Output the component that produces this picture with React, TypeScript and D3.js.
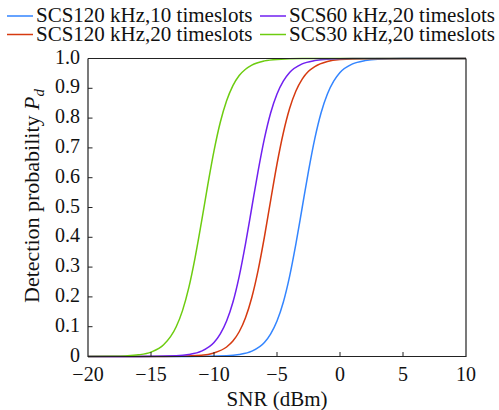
import React, { useEffect, useRef } from "react"
import * as d3 from "d3"

// series (SNR in dB, detection probability)
const snrBlue = [-20, -12, -9, -8, -7, -6, -5.5, -5, -4.5, -4, -3.5, -3, -2.5, -2, -1.5, -1, -0.5, 0, 1, 2, 3, 5, 10]
const pdBlue = [0, 0.0001, 0.0025, 0.0067, 0.018, 0.047, 0.076, 0.119, 0.182, 0.269, 0.378, 0.5, 0.622, 0.731, 0.818, 0.881, 0.924, 0.953, 0.982, 0.993, 0.9975, 0.9997, 1]

const snrPurple = [-20, -16, -13, -12, -11, -10, -9.5, -9, -8.5, -8, -7.5, -7, -6.5, -6, -5.5, -5, -4.5, -4, -3, -2, -1, 1, 10]
const pdPurple = [0, 0.0001, 0.0025, 0.0067, 0.018, 0.047, 0.076, 0.119, 0.182, 0.269, 0.378, 0.5, 0.622, 0.731, 0.818, 0.881, 0.924, 0.953, 0.982, 0.993, 0.9975, 0.9997, 1]

const snrRed = [-20, -14, -11, -10, -9, -8.5, -8, -7.5, -7, -6.5, -6, -5.5, -5, -4.5, -4, -3.5, -3, -2.5, -2, -1, 0, 2, 10]
const pdRed = [0, 0.0002, 0.0045, 0.012, 0.032, 0.052, 0.083, 0.13, 0.198, 0.289, 0.401, 0.525, 0.646, 0.75, 0.832, 0.891, 0.931, 0.957, 0.973, 0.99, 0.9963, 0.9995, 1]

const snrGreen = [-20, -18, -17, -16, -15, -14, -13, -12.5, -12, -11.5, -11, -10.5, -10, -9.5, -9, -8.5, -8, -7.5, -7, -6, -5, -3, 10]
const pdGreen = [0.0001, 0.00075, 0.002, 0.0055, 0.0148, 0.0392, 0.0998, 0.154, 0.231, 0.332, 0.45, 0.574, 0.69, 0.786, 0.858, 0.909, 0.943, 0.964, 0.978, 0.992, 0.997, 0.9996, 1]

const labels = [
  "SCS120 kHz,10 timeslots",
  "SCS60 kHz,20 timeslots",
  "SCS120 kHz,20 timeslots",
  "SCS30 kHz,20 timeslots",
]
const colors = ["#3385ff", "#7020f0", "#d63a10", "#6dcc10"]

const xTicks = [-20, -15, -10, -5, 0, 5, 10]
const yTicks = [0, 0.1, 0.2, 0.3, 0.4, 0.5, 0.6, 0.7, 0.8, 0.9, 1.0]

const W = 499
const H = 410
const font = "'Liberation Serif', 'Times New Roman', serif"

export default function App() {
  const ref = useRef<SVGSVGElement>(null)

  useEffect(() => {
    const svg = d3.select(ref.current)
    svg.selectAll("*").remove()

    const m = { left: 88, right: 33, top: 58.5, bottom: 53.5 }
    const x = d3.scaleLinear().domain([-20, 10]).range([m.left, W - m.right])
    const y = d3.scaleLinear().domain([0, 1]).range([H - m.bottom, m.top])

    // series, drawn in this order so green ends on top
    const series = [
      { s: snrBlue, p: pdBlue, c: colors[0] },
      { s: snrRed, p: pdRed, c: colors[2] },
      { s: snrPurple, p: pdPurple, c: colors[1] },
      { s: snrGreen, p: pdGreen, c: colors[3] },
    ]
    const line = d3
      .line<[number, number]>()
      .x(d => x(d[0]))
      .y(d => y(d[1]))
      .curve(d3.curveMonotoneX)

    svg
      .append("g")
      .selectAll("path")
      .data(series)
      .enter()
      .append("path")
      .attr("d", d => line(d.s.map((v, i) => [v, d.p[i]] as [number, number])))
      .attr("fill", "none")
      .attr("stroke", d => d.c)
      .attr("stroke-width", 1.5)

    // box
    const x0 = x(-20), x1 = x(10), y0 = y(0), y1 = y(1)
    svg
      .append("path")
      .attr("d", `M${x0},${y1}V${y0}H${x1}V${y1}`)
      .attr("fill", "none")
      .attr("stroke", "#222")
      .attr("stroke-width", 1.2)
    svg
      .append("line")
      .attr("x1", x0).attr("x2", x1).attr("y1", y1).attr("y2", y1)
      .attr("stroke", "#222").attr("stroke-width", 1.2)

    // x ticks, inward
    const gx = svg.append("g")
    gx.selectAll("line")
      .data(xTicks.slice(1, -1))
      .enter()
      .append("line")
      .attr("x1", d => x(d)).attr("x2", d => x(d))
      .attr("y1", y0).attr("y2", y0 - 4.5)
      .attr("stroke", "#222")
    gx.selectAll("text")
      .data(xTicks)
      .enter()
      .append("text")
      .attr("x", d => x(d))
      .attr("y", 381)
      .attr("text-anchor", "middle")
      .attr("font-family", font)
      .attr("font-size", 20)
      .attr("fill", "#111")
      .text(d => (d < 0 ? "\u2212" + Math.abs(d) : String(d)))

    // y ticks
    const gy = svg.append("g")
    gy.selectAll("line")
      .data(yTicks.slice(1, -1))
      .enter()
      .append("line")
      .attr("x1", x0).attr("x2", x0 + 4.5)
      .attr("y1", d => y(d)).attr("y2", d => y(d))
      .attr("stroke", "#222")
    gy.selectAll("text")
      .data(yTicks)
      .enter()
      .append("text")
      .attr("x", x0 - 8)
      .attr("y", d => y(d) - 2)
      .attr("dy", "0.35em")
      .attr("text-anchor", "end")
      .attr("font-family", font)
      .attr("font-size", 20)
      .attr("fill", "#111")
      .text(d => (d === 0 ? "0" : d.toFixed(1)))

    // axis titles
    svg
      .append("text")
      .attr("x", x(-5))
      .attr("y", 406)
      .attr("text-anchor", "middle")
      .attr("font-family", font)
      .attr("font-size", 21)
      .attr("fill", "#111")
      .text("SNR (dBm)")

    const yl = svg
      .append("text")
      .attr("transform", `translate(38.5,196) rotate(-90)`)
      .attr("text-anchor", "middle")
      .attr("font-family", font)
      .attr("font-size", 22)
      .attr("fill", "#111")
    yl.append("tspan").text("Detection probability ")
    yl.append("tspan").attr("font-style", "italic").text("P")
    yl.append("tspan").attr("font-style", "italic").attr("font-size", 15).attr("dy", 5).text("d")

    // legend, two rows by two columns
    const lx = [7, 260]
    const ly = [22, 40.5]
    const lg = svg
      .append("g")
      .selectAll("g")
      .data(labels)
      .enter()
      .append("g")
      .attr("transform", (d, i) => `translate(${lx[i % 2]},${ly[Math.floor(i / 2)]})`)
    lg.append("line")
      .attr("x1", 0).attr("x2", 26)
      .attr("y1", -6).attr("y2", -6)
      .attr("stroke", (d, i) => colors[i])
      .attr("stroke-width", 1.5)
    lg.append("text")
      .attr("x", 29)
      .attr("y", 0)
      .attr("font-family", font)
      .attr("font-size", 21)
      .attr("fill", "#111")
      .text(d => d)
  }, [])

  return (
    <svg
      ref={ref}
      width={W}
      height={H}
      style={{ position: "absolute", left: 0, top: 0, background: "#fff" }}
    />
  )
}
